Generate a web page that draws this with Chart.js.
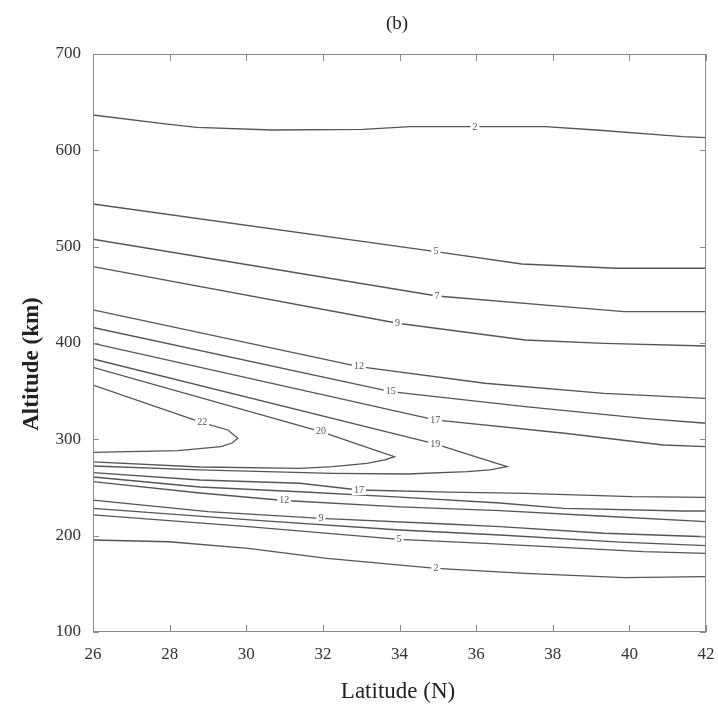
<!DOCTYPE html>
<html>
<head>
<meta charset="utf-8">
<script src="https://cdn.jsdelivr.net/npm/chart.js@4"></script>
<style>
  html, body { margin: 0; padding: 0; background: #fff; }
  canvas { display: block; }
</style>
</head>
<body>
<canvas id="contours" width="718" height="709"></canvas>
<script>
// contour traces, latitude (N) against altitude (km)
const top2Lat = [26.0, 27.88, 28.71, 30.67, 33.05, 34.27, 35.97, 37.8, 39.13, 41.4, 42.0];
const top2Alt = [636.7, 627.4, 623.9, 621.1, 621.8, 624.6, 624.6, 624.6, 621.1, 614.2, 613.1];
const top5Lat = [26.0, 34.95, 37.19, 39.65, 42.0];
const top5Alt = [544.3, 494.8, 482.0, 477.6, 477.6];
const top7Lat = [26.0, 34.98, 38.29, 39.86, 42.0];
const top7Alt = [507.7, 448.8, 437.7, 432.5, 432.5];
const top9Lat = [26.0, 33.95, 37.28, 39.34, 42.0];
const top9Alt = [479.2, 420.5, 403.1, 399.7, 396.9];
const top12Lat = [26.0, 32.94, 36.23, 39.34, 42.0];
const top12Alt = [434.3, 375.4, 358.2, 347.8, 342.6];
const top15Lat = [26.0, 33.77, 37.28, 40.37, 42.0];
const top15Alt = [416.1, 349.5, 333.9, 321.8, 316.7];
const top17Lat = [26.0, 34.93, 38.31, 40.88, 42.0];
const top17Alt = [399.7, 320.1, 306.3, 294.1, 292.4];

const loop19Lat = [26.0, 34.93, 36.1, 36.81, 36.36, 35.76, 34.2, 32.26, 28.79, 26.0];
const loop19Alt = [383.4, 295.2, 280.6, 271.6, 268.2, 266.4, 264.0, 264.7, 268.2, 272.3];
const loop20Lat = [26.0, 31.95, 33.36, 33.87, 33.62, 33.15, 32.26, 31.4, 28.79, 26.0];
const loop20Alt = [374.8, 307.9, 288.9, 282.0, 278.6, 275.1, 271.6, 269.9, 271.3, 276.5];
const loop22Lat = [26.0, 28.85, 29.52, 29.78, 29.63, 29.34, 28.22, 26.0];
const loop22Alt = [356.4, 317.3, 309.7, 301.1, 296.2, 292.4, 288.2, 286.5];

const low17Lat = [26.0, 28.79, 31.4, 32.94, 35.32, 37.28, 40.07, 42.0];
const low17Alt = [265.4, 257.8, 254.4, 247.4, 245.3, 244.0, 240.5, 239.8];
const low15Lat = [26.0, 28.79, 31.4, 34.01, 36.62, 38.29, 41.4, 42.0];
const low15Alt = [260.9, 250.5, 245.6, 240.1, 233.9, 228.4, 225.6, 225.6];
const low12Lat = [26.0, 28.79, 30.99, 34.01, 36.62, 39.23, 42.0];
const low12Alt = [256.2, 244.3, 236.5, 229.8, 225.9, 220.4, 214.5];
const low9Lat = [26.0, 29.0, 31.95, 35.21, 36.62, 39.34, 42.0];
const low9Alt = [237.0, 224.9, 218.0, 212.1, 209.3, 202.5, 198.9];
const low7Lat = [26.0, 30.1, 34.01, 36.62, 39.76, 42.0];
const low7Alt = [228.4, 216.3, 205.9, 200.7, 193.4, 189.6];
const low5Lat = [26.0, 30.05, 33.99, 36.23, 40.37, 42.0];
const low5Alt = [221.5, 209.3, 196.2, 192.1, 183.4, 181.7];
const low2Lat = [26.0, 27.98, 30.05, 32.11, 34.95, 37.28, 39.86, 42.0];
const low2Alt = [195.5, 193.7, 186.9, 176.5, 166.1, 160.9, 156.4, 157.4];

// inline contour labels
const labelText = ['2', '5', '7', '9', '12', '15', '17', '19', '20', '22', '17', '12', '9', '5', '2'];
const labelLat = [35.97, 34.95, 34.98, 33.95, 32.94, 33.77, 34.93, 34.93, 31.95, 28.85, 32.94, 30.99, 31.95, 33.99, 34.95];
const labelAlt = [624.0, 495.0, 448.8, 420.5, 375.4, 349.5, 320.1, 295.2, 307.9, 317.3, 247.4, 236.5, 218.0, 196.2, 166.1];

const traces = [
  [top2Lat, top2Alt], [top5Lat, top5Alt], [top7Lat, top7Alt], [top9Lat, top9Alt],
  [top12Lat, top12Alt], [top15Lat, top15Alt], [top17Lat, top17Alt],
  [loop19Lat, loop19Alt], [loop20Lat, loop20Alt], [loop22Lat, loop22Alt],
  [low17Lat, low17Alt], [low15Lat, low15Alt], [low12Lat, low12Alt], [low9Lat, low9Alt],
  [low7Lat, low7Alt], [low5Lat, low5Alt], [low2Lat, low2Alt]
];

const serif = '"Liberation Serif", "DejaVu Serif", serif';
const lineColor = '#555';
const frameColor = '#8a8a8a';

const decorations = {
  id: 'decorations',
  afterDatasetsDraw(chart) {
    const { ctx, chartArea: a, scales: { x, y } } = chart;
    ctx.save();

    // contour labels sit on a white patch that breaks the line
    ctx.font = '10px ' + serif;
    ctx.textAlign = 'center';
    ctx.textBaseline = 'middle';
    labelText.forEach((t, i) => {
      const px = x.getPixelForValue(labelLat[i]);
      const py = y.getPixelForValue(labelAlt[i]);
      const w = ctx.measureText(t).width + 4;
      ctx.fillStyle = '#fff';
      ctx.fillRect(px - w / 2, py - 5, w, 10);
      ctx.fillStyle = '#555';
      ctx.fillText(t, px, py);
    });

    // box and inward ticks on all four sides
    ctx.strokeStyle = frameColor;
    ctx.lineWidth = 1;
    ctx.strokeRect(a.left + 0.5, a.top + 0.5, a.right - a.left - 1, a.bottom - a.top - 1);
    ctx.beginPath();
    x.ticks.forEach(t => {
      const p = Math.round(x.getPixelForValue(t.value)) + 0.5;
      ctx.moveTo(p, a.bottom); ctx.lineTo(p, a.bottom - 7);
      ctx.moveTo(p, a.top); ctx.lineTo(p, a.top + 7);
    });
    y.ticks.forEach(t => {
      const p = Math.round(y.getPixelForValue(t.value)) + 0.5;
      ctx.moveTo(a.left, p); ctx.lineTo(a.left + 6, p);
      ctx.moveTo(a.right, p); ctx.lineTo(a.right - 6, p);
    });
    ctx.stroke();

    // panel letter and axis titles
    ctx.fillStyle = '#222';
    ctx.textAlign = 'center';
    ctx.textBaseline = 'middle';
    ctx.font = '19px ' + serif;
    ctx.fillText('(b)', 397, 24);
    ctx.font = '23px ' + serif;
    ctx.fillText('Latitude (N)', 398, 692);
    ctx.translate(32, 364);
    ctx.rotate(-Math.PI / 2);
    ctx.font = 'bold 23px ' + serif;
    ctx.fillText('Altitude (km)', 0, 0);
    ctx.restore();
  }
};

new Chart(document.getElementById('contours'), {
  type: 'scatter',
  data: {
    datasets: traces.map(([lat, alt]) => ({
      data: lat.map((v, i) => ({ x: v, y: alt[i] })),
      showLine: true,
      borderColor: lineColor,
      borderWidth: 1.3,
      pointRadius: 0,
      tension: 0
    }))
  },
  options: {
    responsive: false,
    animation: false,
    layout: { padding: { top: 54, right: 12, left: 0, bottom: 0 } },
    plugins: { legend: { display: false }, tooltip: { enabled: false } },
    scales: {
      x: {
        type: 'linear',
        min: 26,
        max: 42,
        grid: { display: false, drawTicks: false },
        border: { display: false },
        ticks: { stepSize: 2, padding: 12, color: '#333', font: { family: serif, size: 17 } },
        afterFit: s => {
          s.height = 77;
          s.paddingLeft = 0;
          s.paddingRight = 0;
        }
      },
      y: {
        type: 'linear',
        min: 100,
        max: 700,
        grid: { display: false, drawTicks: false },
        border: { display: false },
        ticks: { stepSize: 100, padding: 12, color: '#333', font: { family: serif, size: 17 } },
        afterFit: s => {
          s.width = 93;
          s.paddingTop = 0;
          s.paddingBottom = 0;
        }
      }
    }
  },
  plugins: [decorations]
});
</script>
</body>
</html>
